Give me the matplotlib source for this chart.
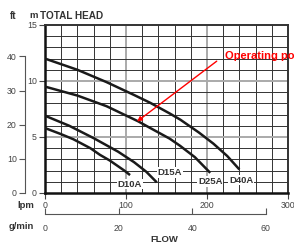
import matplotlib
matplotlib.use("Agg")
import matplotlib.pyplot as plt

plt.rcParams['font.family'] = ['Liberation Sans', 'DejaVu Sans']

# pump curves: flow (lpm) vs total head (m)
d10a_flow = [0, 20, 35, 56, 68, 80, 90, 98, 105]
d10a_head = [5.8, 5.25, 4.8, 4.0, 3.4, 2.9, 2.4, 2.0, 1.6]

d15a_flow = [0, 30, 60, 90, 110, 125, 138]
d15a_head = [6.9, 6.0, 4.9, 3.7, 2.75, 1.9, 0.95]

d25a_flow = [0, 40, 76, 115, 130, 154, 167, 185, 204]
d25a_head = [9.5, 8.7, 7.75, 6.4, 5.8, 4.85, 4.2, 3.2, 1.8]

d40a_flow = [0, 40, 76, 110, 130, 154, 167, 190, 208, 225, 240]
d40a_head = [12.0, 11.0, 9.9, 8.75, 8.05, 7.1, 6.55, 5.4, 4.4, 3.3, 2.1]

curves = [
    ("D10A", d10a_flow, d10a_head, (105, 0.8)),
    ("D15A", d15a_flow, d15a_head, (154, 1.85)),
    ("D25A", d25a_flow, d25a_head, (204, 1.0)),
    ("D40A", d40a_flow, d40a_head, (242, 1.15)),
]

lpm_ticks = [0, 100, 200, 300]
m_ticks = [0, 5, 10, 15]
ft_ticks = [0, 10, 20, 30, 40]
gal_ticks = [0, 20, 40, 60]

M_TO_FT = 3.2808
GAL_TO_L = 4.546

W, H = 294, 244
fig = plt.figure(figsize=(W / 100, H / 100), dpi=100)

left, bottom, width, height = 45 / W, 51 / H, 243 / W, 168 / H
ax = fig.add_axes([left, bottom, width, height])
ax.set_xlim(0, 300)
ax.set_ylim(0, 15)

# grid
for x in range(20, 300, 20):
    if x % 100 == 0:
        ax.axvline(x, color="#aaaaaa", lw=1.4, zorder=1)
    else:
        ax.axvline(x, color="#333333", lw=0.7, zorder=1)
for y in range(1, 15):
    if y % 5 == 0:
        ax.axhline(y, color="#aaaaaa", lw=1.4, zorder=1)
    else:
        ax.axhline(y, color="#333333", lw=0.7, zorder=1)

for name, fx, hy, pos in curves:
    ax.plot(fx, hy, color="#1a1a1a", lw=1.8, solid_capstyle="butt", zorder=3)
    ax.text(pos[0], pos[1], name, ha="center", va="center", fontsize=6.8,
            fontweight="bold", color="#333333", zorder=4,
            bbox=dict(facecolor="white", edgecolor="none", pad=0.6))

for s in ["left", "bottom"]:
    ax.spines[s].set_linewidth(1.8)
    ax.spines[s].set_color("#111111")
for s in ["top", "right"]:
    ax.spines[s].set_linewidth(1.4)
    ax.spines[s].set_color("#333333")

ax.set_xticks(lpm_ticks)
ax.set_yticks(m_ticks)
ax.tick_params(axis="both", labelsize=6.3, labelcolor="#444444", color="#444444",
               length=4, width=0.8, pad=2)

# operating point annotation
ax.annotate("", xy=(113.6, 6.38), xytext=(212, 11.77),
            arrowprops=dict(arrowstyle="-|>", color="red", lw=1.0,
                            mutation_scale=7, shrinkA=0, shrinkB=0), zorder=5)
ax.text(222, 12.25, "Operating point", color="red", fontsize=8,
        fontweight="bold", ha="left", va="center", clip_on=False)

# ft axis
ax_ft = fig.add_axes([25 / W, bottom, 1e-6, height])
ax_ft.set_ylim(0, 15 * M_TO_FT)
ax_ft.set_xticks([])
ax_ft.set_yticks(ft_ticks)
for s in ["top", "right", "bottom"]:
    ax_ft.spines[s].set_visible(False)
ax_ft.spines["left"].set_bounds(0, 40)
ax_ft.spines["left"].set_color("#555555")
ax_ft.spines["left"].set_linewidth(0.8)
ax_ft.tick_params(axis="y", labelsize=6.3, labelcolor="#444444", color="#555555",
                  length=4, width=0.8, pad=2)

# g/min axis
ax_g = fig.add_axes([left, (H - 214) / H, width, 1e-6])
ax_g.set_xlim(0, 300 / GAL_TO_L)
ax_g.set_yticks([])
ax_g.set_xticks(gal_ticks)
for s in ["top", "right", "left"]:
    ax_g.spines[s].set_visible(False)
ax_g.spines["bottom"].set_bounds(0, 60)
ax_g.spines["bottom"].set_color("#555555")
ax_g.spines["bottom"].set_linewidth(0.8)
ax_g.tick_params(axis="x", direction="in", labelsize=6.3, labelcolor="#444444",
                 color="#555555", length=4, width=0.8, pad=7)

# axis titles
bold = dict(fontweight="bold", color="#333333")
fig.text(13.5 / W, 1 - 15.7 / H, "ft", ha="center", va="center", fontsize=7, **bold)
fig.text(29.5 / W, 1 - 15.7 / H, "m", ha="left", va="center", fontsize=6.8, **bold)
fig.text(39.5 / W, 1 - 15.7 / H, "TOTAL HEAD", ha="left", va="center", fontsize=7.2, **bold)
fig.text(34 / W, 1 - 205 / H, "lpm", ha="right", va="center", fontsize=6.8, **bold)
fig.text(34 / W, 1 - 226.7 / H, "g/min", ha="right", va="center", fontsize=6.8, **bold)
fig.text(164 / W, 1 - 239 / H, "FLOW", ha="center", va="center", fontsize=6.8, **bold)

fig.savefig("out.png", dpi=100)
